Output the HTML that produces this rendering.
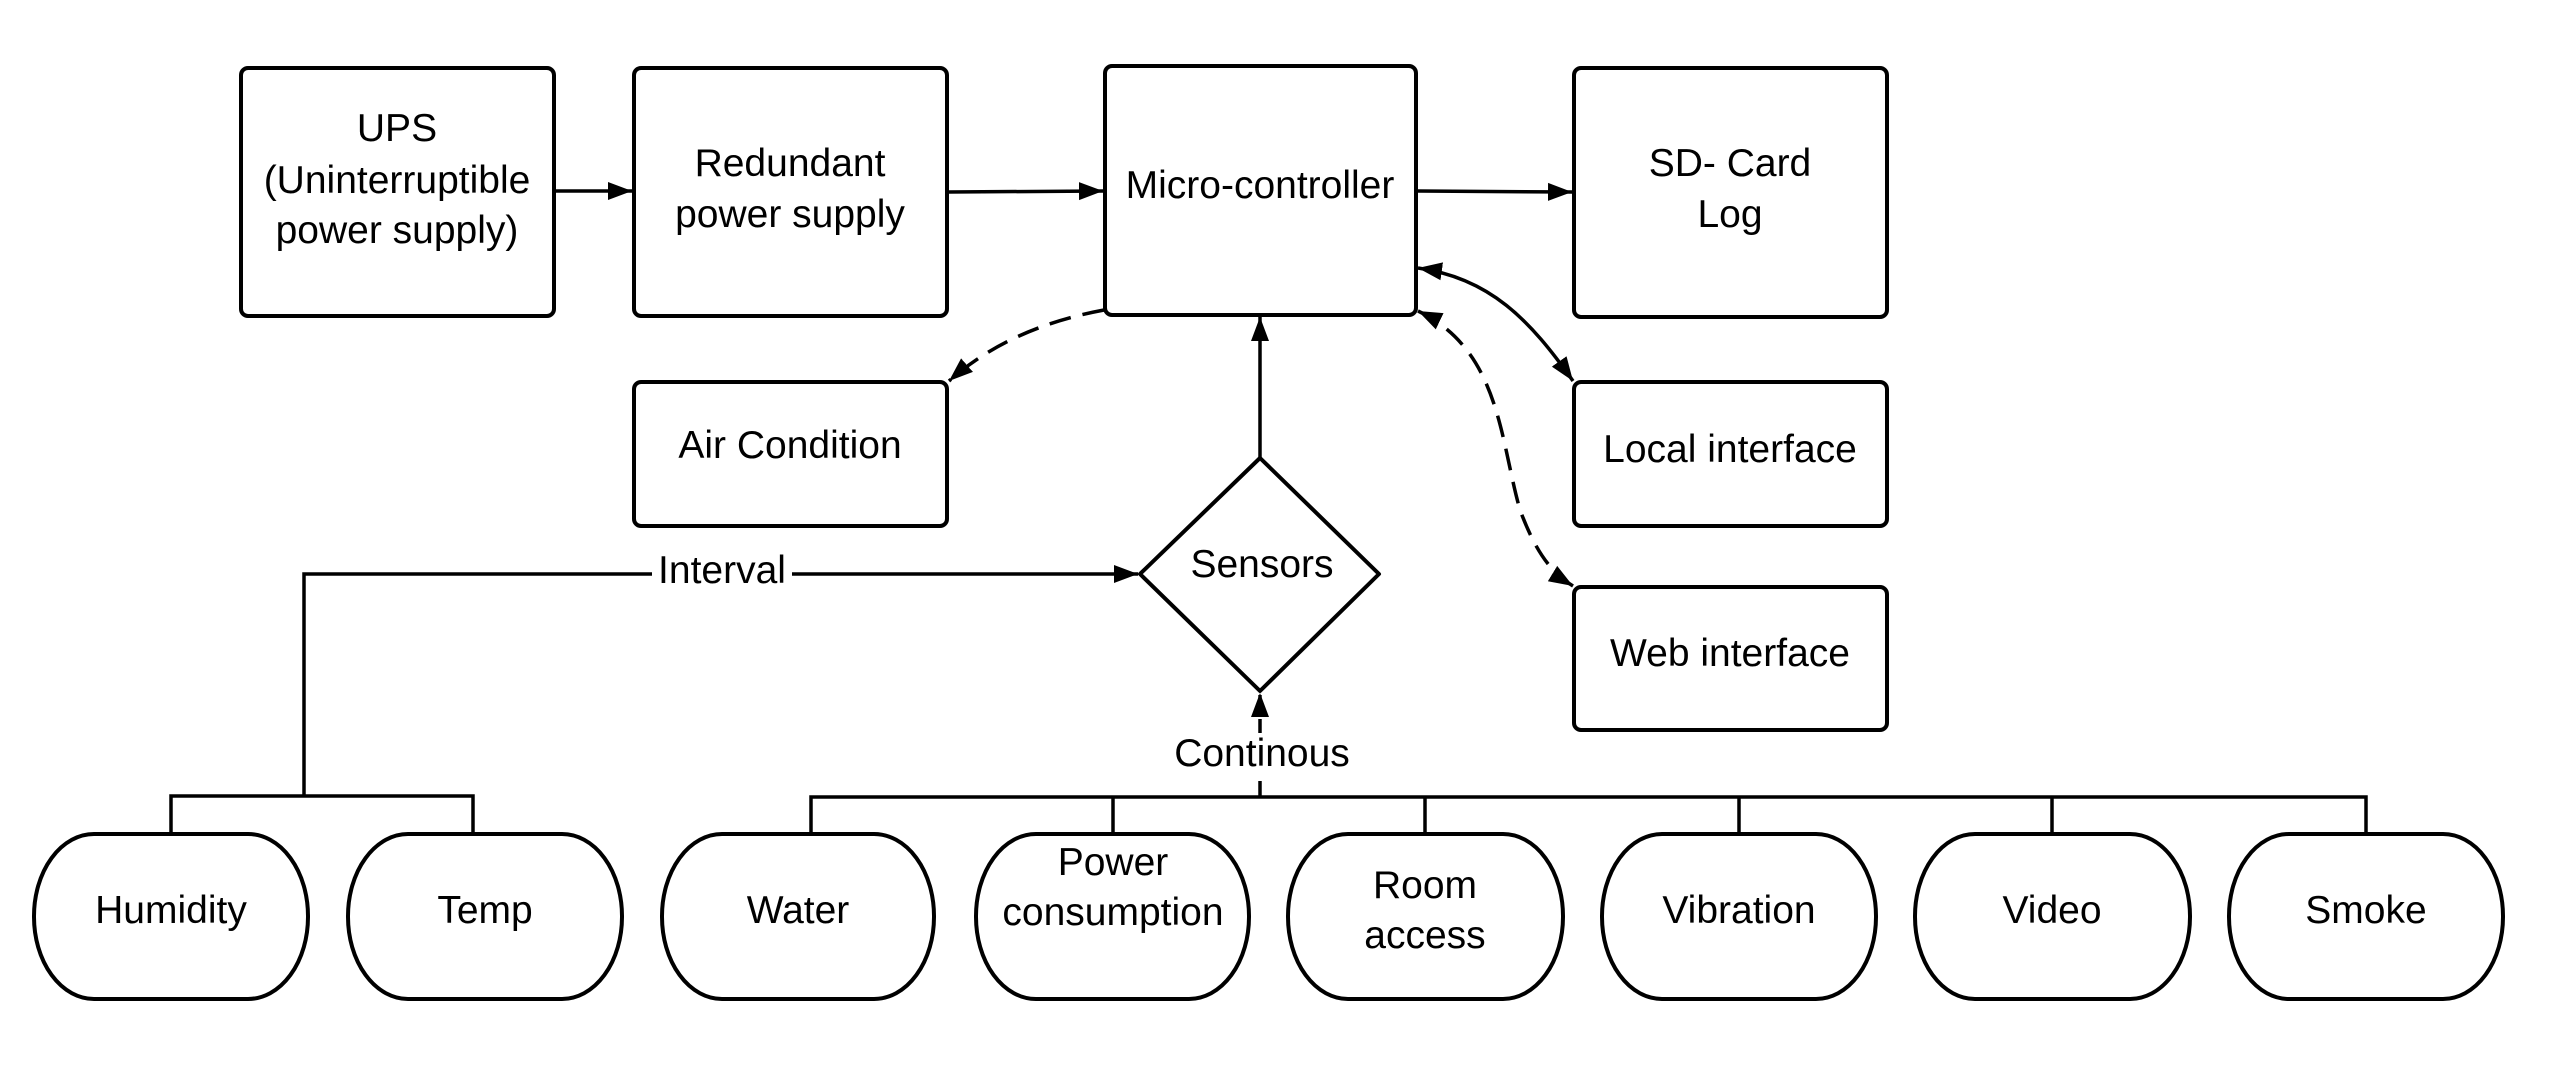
<!DOCTYPE html>
<html><head><meta charset="utf-8"><style>html,body{margin:0;padding:0;background:#fff;overflow:hidden}svg{display:block}</style></head><body>
<svg width="2554" height="1071" viewBox="0 0 2554 1071" xmlns="http://www.w3.org/2000/svg" font-family="Liberation Sans, Arial, sans-serif" font-size="39" text-anchor="middle">
<defs>
<marker id="b" viewBox="0 0 24 24" refX="24" refY="12" markerWidth="24" markerHeight="24" markerUnits="userSpaceOnUse" orient="auto-start-reverse"><path d="M0,3 L24,12 L0,21 z" fill="#000"/></marker>
</defs>
<g fill="#fff" stroke="#000" stroke-width="4">
<rect x="241" y="68" width="313" height="248" rx="7"/>
<rect x="634" y="68" width="313" height="248" rx="7"/>
<rect x="1105" y="66" width="311" height="249" rx="7"/>
<rect x="1574" y="68" width="313" height="249" rx="7"/>
<rect x="634" y="382" width="313" height="144" rx="7"/>
<rect x="1574" y="382" width="313" height="144" rx="7"/>
<rect x="1574" y="587" width="313" height="143" rx="7"/>
<path d="M1260,458 L1379,574 L1260,691 L1140,574 Z" stroke-linejoin="round"/>
</g>
<g fill="#fff" stroke="#000" stroke-width="4">
<rect x="34" y="834" width="274" height="165" rx="60" ry="82"/>
<rect x="348" y="834" width="274" height="165" rx="60" ry="82"/>
<rect x="662" y="834" width="272" height="165" rx="60" ry="82"/>
<rect x="976" y="834" width="273" height="165" rx="60" ry="82"/>
<rect x="1288" y="834" width="275" height="165" rx="60" ry="82"/>
<rect x="1602" y="834" width="274" height="165" rx="60" ry="82"/>
<rect x="1915" y="834" width="275" height="165" rx="60" ry="82"/>
<rect x="2229" y="834" width="274" height="165" rx="60" ry="82"/>
</g>
<g fill="none" stroke="#000" stroke-width="3.5">
<path d="M556,191 L632,191" marker-end="url(#b)"/>
<path d="M949,192 L1103,191" marker-end="url(#b)"/>
<path d="M1418,191 L1572,192" marker-end="url(#b)"/>
<path d="M1260,458 L1260,317" marker-end="url(#b)"/>
<path d="M304,796 L304,574 L1138,574" marker-end="url(#b)"/>
<path d="M171,834 L171,796 L473,796 L473,834"/>
<path d="M811,834 L811,797 L2366,797 L2366,834"/>
<path d="M1113,797 L1113,834 M1425,797 L1425,834 M1739,797 L1739,834 M2052,797 L2052,834"/>
<path d="M1260,797 L1260,780 M1260,735 L1260,693" marker-end="url(#b)" stroke-dasharray="16 8"/>
<path d="M1104,310 C1040,322 990,345 949,381" stroke-dasharray="22 12" marker-end="url(#b)"/>
<path d="M1418,268 C1490,278 1530,320 1573,381" marker-start="url(#b)" marker-end="url(#b)"/>
<path d="M1418,311 C1500,350 1500,440 1520,510 C1535,550 1550,572 1573,586" stroke-dasharray="22 12" marker-start="url(#b)" marker-end="url(#b)"/>
</g>
<rect x="652" y="550" width="140" height="45" fill="#fff"/>
<rect x="1168" y="733" width="184" height="45" fill="#fff"/>
<g fill="#000">
<text x="397" y="141">UPS</text>
<text x="397" y="193">(Uninterruptible</text>
<text x="397" y="243">power supply)</text>
<text x="790" y="176">Redundant</text>
<text x="790" y="227">power supply</text>
<text x="1260" y="198">Micro-controller</text>
<text x="1730" y="176">SD- Card</text>
<text x="1730" y="227">Log</text>
<text x="790" y="458">Air Condition</text>
<text x="1730" y="462">Local interface</text>
<text x="1730" y="666">Web interface</text>
<text x="1262" y="577">Sensors</text>
<text x="722" y="583">Interval</text>
<text x="1262" y="766">Continous</text>
<text x="171" y="923">Humidity</text>
<text x="485" y="923">Temp</text>
<text x="798" y="923">Water</text>
<text x="1113" y="875">Power</text>
<text x="1113" y="925">consumption</text>
<text x="1425" y="898">Room</text>
<text x="1425" y="948">access</text>
<text x="1739" y="923">Vibration</text>
<text x="2052" y="923">Video</text>
<text x="2366" y="923">Smoke</text>
</g>
</svg>
</body></html>
